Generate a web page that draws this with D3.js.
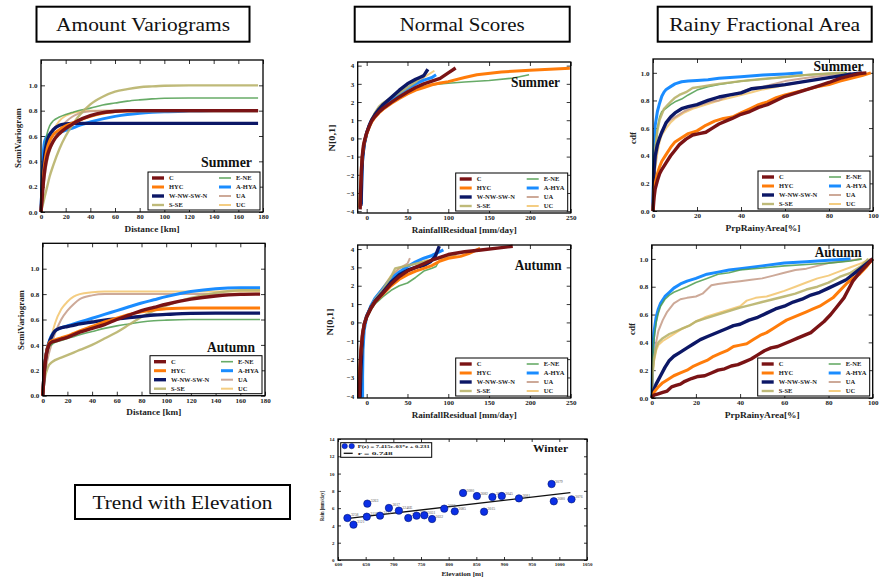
<!DOCTYPE html>
<html>
<head>
<meta charset="utf-8">
<script src="https://cdn.jsdelivr.net/npm/d3@7"></script>
<style>
  body { margin: 0; background: #fff; }
  text { font-family: "Liberation Serif", "DejaVu Serif", serif; }
</style>
</head>
<body>
<svg id="fig" width="880" height="578"></svg>
<script>
// ---- data ----
const seriesNames = ['C', 'HYC', 'W-NW-SW-N', 'S-SE', 'E-NE', 'A-HYA', 'UA', 'UC'];

// variograms: semivariance at each distance (km)
const distKm = [0, 1, 2, 3, 5, 7, 10, 15, 20, 25, 30, 40, 50, 60, 70, 80, 90, 100, 120, 140, 160, 176];
const varioSummer = [
  [0, .12, .24, .33, .44, .50, .56, .62, .66, .69, .72, .76, .785, .795, .80, .80, .80, .80, .80, .80, .80, .80],
  [0, .15, .28, .38, .50, .56, .61, .65, .68, .70, .72, .755, .78, .793, .798, .80, .80, .80, .80, .80, .80, .80],
  [0, .20, .35, .45, .56, .61, .65, .685, .695, .70, .70, .70, .70, .70, .70, .70, .70, .70, .70, .70, .70, .70],
  [0, .04, .08, .12, .20, .28, .37, .50, .60, .68, .75, .85, .91, .95, .97, .985, .992, .997, 1.0, 1.0, 1.0, 1.0],
  [0, .20, .38, .50, .62, .68, .72, .75, .77, .785, .80, .82, .845, .86, .875, .885, .893, .898, .90, .90, .90, .90],
  [0, .30, .48, .56, .60, .61, .62, .63, .645, .66, .68, .71, .735, .755, .77, .78, .787, .792, .797, .80, .80, .80],
  [0, .10, .20, .28, .40, .48, .56, .65, .71, .75, .775, .795, .80, .80, .80, .80, .80, .80, .80, .80, .80, .80],
  [0, .12, .24, .33, .46, .55, .64, .72, .76, .78, .79, .80, .80, .80, .80, .80, .80, .80, .80, .80, .80, .80]
];
const varioAutumn = [
  [0, .15, .26, .33, .40, .42, .43, .445, .46, .48, .50, .53, .56, .60, .635, .67, .695, .72, .76, .785, .798, .80],
  [0, .16, .27, .34, .41, .43, .44, .455, .47, .49, .51, .545, .58, .61, .64, .66, .675, .685, .69, .69, .69, .69],
  [0, .15, .26, .33, .41, .46, .51, .535, .545, .555, .565, .58, .595, .605, .615, .625, .635, .64, .648, .65, .65, .65],
  [0, .08, .15, .19, .24, .26, .28, .30, .32, .34, .36, .40, .45, .50, .56, .62, .67, .71, .77, .81, .83, .83],
  [0, .14, .25, .31, .38, .40, .42, .435, .45, .465, .48, .505, .53, .55, .565, .58, .59, .595, .60, .60, .60, .60],
  [0, .16, .27, .34, .42, .47, .51, .535, .55, .565, .58, .61, .64, .67, .70, .73, .755, .78, .82, .843, .85, .85],
  [0, .10, .18, .24, .33, .40, .49, .60, .67, .72, .76, .79, .80, .80, .80, .80, .80, .80, .80, .80, .80, .80],
  [0, .10, .18, .25, .36, .46, .57, .68, .74, .78, .80, .815, .82, .82, .82, .82, .82, .82, .82, .82, .82, .82]
];

// normal scores: [rainfall residual mm/day, N[0,1]]
const scoresSummer = [
  [[-8,-3.9],[-7.5,-3],[-6.5,-1.8],[-5.5,-1],[-4,-.4],[-2,0],[0,.3],[3,.65],[6,.95],[10,1.2],[15,1.45],[20,1.65],[30,1.98],[40,2.28],[50,2.55],[60,2.8],[70,3.0],[80,3.15],[90,3.3],[100,3.6],[109,3.87]],
  [[-8.5,-3.8],[-7.5,-2.6],[-6.5,-1.6],[-5,-.8],[-3,-.2],[0,.25],[3,.6],[6,.9],[10,1.15],[15,1.4],[20,1.6],[30,1.92],[40,2.2],[50,2.45],[60,2.65],[70,2.8],[80,2.95],[90,3.05],[100,3.12],[120,3.35],[135,3.5],[165,3.65],[200,3.75],[249,3.85]],
  [[-7,-3.7],[-6.5,-2.8],[-6,-1.8],[-5,-1],[-3,-.3],[0,.3],[3,.7],[6,1.0],[10,1.3],[15,1.6],[20,1.85],[30,2.25],[40,2.65],[50,3.0],[60,3.25],[65,3.35],[70,3.45],[75,3.8]],
  [[-7,-3.5],[-6,-2],[-5,-1],[-3,-.3],[0,.3],[3,.7],[6,1.05],[10,1.4],[15,1.75],[20,1.95],[30,2.25],[40,2.5],[50,2.8],[60,3.1],[65,3.3]],
  [[-7,-3.6],[-6,-2],[-5,-1],[-3,-.3],[0,.3],[3,.65],[6,.95],[10,1.2],[15,1.45],[20,1.65],[30,2.0],[40,2.3],[50,2.55],[60,2.72],[70,2.85],[80,2.95],[100,3.03],[120,3.1],[150,3.18],[180,3.32],[199,3.5]],
  [[-6.5,-3.6],[-6,-2.4],[-5,-1.2],[-3,-.3],[0,.3],[3,.7],[6,1.0],[10,1.3],[15,1.6],[20,1.82],[30,2.15],[40,2.45],[50,2.75],[60,3.0],[70,3.2],[80,3.35],[85,3.5]],
  [[-7,-3.3],[-6,-2],[-5,-1],[-3,-.3],[0,.3],[3,.68],[6,1.0],[10,1.3],[20,1.8],[30,2.15],[40,2.45],[50,2.7],[60,2.95],[70,3.3]],
  [[-7,-3.3],[-6,-2],[-5,-1],[-3,-.3],[0,.3],[3,.7],[6,1.0],[10,1.3],[20,1.8],[30,2.2],[40,2.5],[50,2.8],[60,3.1],[70,3.35],[83,3.72]]
];
const scoresAutumn = [
  [[-9,-4.1],[-8,-2.5],[-7,-1.5],[-5,-.6],[-3,-.1],[0,.3],[5,.75],[10,1.1],[20,1.6],[30,2.1],[40,2.5],[50,2.8],[60,3.0],[70,3.2],[80,3.4],[90,3.55],[100,3.7],[120,3.85],[140,3.95],[160,4.05],[179,4.15]],
  [[-10,-4.1],[-8.5,-2.5],[-7,-1.5],[-5,-.6],[-3,-.1],[0,.3],[5,.75],[10,1.1],[20,1.55],[30,2.0],[40,2.35],[50,2.6],[60,2.8],[70,2.95],[80,3.1],[90,3.35],[100,3.5],[115,3.6],[125,3.75],[139,4.04]],
  [[-8,-4.1],[-7,-2.6],[-6,-1.5],[-5,-.7],[-3,-.1],[0,.35],[5,.8],[10,1.15],[20,1.65],[30,2.2],[40,2.6],[50,2.85],[60,3.0],[70,3.1],[78,3.3],[84,3.6],[89,4.16]],
  [[-7,-3.3],[-6,-2],[-5,-.9],[-3,-.2],[0,.35],[5,.85],[10,1.25],[20,1.8],[30,2.5],[35,2.95],[40,3.0],[50,3.1],[60,3.2],[80,3.4],[100,3.6],[110,3.7]],
  [[-8,-3.5],[-7,-2],[-6,-1],[-4,-.3],[0,.2],[5,.65],[10,1.0],[20,1.4],[30,1.75],[40,2.0],[50,2.15],[55,2.3],[60,2.45],[70,2.8],[80,2.95],[85,3.05],[88,3.3]],
  [[-5,-4.1],[-5,-3],[-4.5,-1.5],[-3,-.4],[0,.3],[5,.9],[10,1.3],[20,1.85],[30,2.4],[40,2.75],[50,3.05],[60,3.3],[70,3.5],[80,3.65],[94,3.95]],
  [[-7,-3.3],[-6,-2],[-5,-.9],[-3,-.2],[0,.35],[5,.9],[10,1.3],[20,1.9],[30,2.5],[40,2.95],[50,3.2],[53,3.5]],
  [[-7,-3.3],[-6,-2],[-5,-.9],[-3,-.2],[0,.35],[5,.9],[10,1.3],[20,1.9],[30,2.55],[40,2.95],[50,3.1],[60,3.2],[75,3.4]]
];

// rainy fractional area: [PrpRainyArea %, cdf]
const areaSummer = [
  [[0,0],[.5,.1],[1,.16],[2,.22],[3,.27],[4,.3],[6,.35],[8,.4],[10,.44],[12,.48],[15,.52],[18,.55],[21,.56],[24,.57],[27,.6],[30,.63],[33,.65],[36,.67],[40,.7],[44,.72],[48,.75],[52,.77],[56,.8],[60,.83],[64,.85],[68,.87],[72,.89],[76,.91],[80,.93],[85,.96],[90,.98],[94,.995],[97,1]],
  [[0,0],[.5,.15],[1,.2],[2,.27],[3,.32],[4,.36],[6,.41],[8,.46],[10,.5],[13,.53],[16,.56],[20,.58],[24,.62],[28,.65],[32,.67],[36,.68],[40,.71],[44,.74],[48,.77],[52,.79],[56,.82],[60,.84],[65,.86],[70,.88],[75,.9],[80,.915],[85,.94],[90,.96],[95,.98],[99,1]],
  [[0,0],[.5,.3],[1,.4],[2,.48],[3,.53],[4,.57],[6,.64],[8,.68],[10,.71],[13,.74],[16,.755],[20,.77],[25,.8],[30,.825],[35,.84],[40,.855],[45,.885],[50,.895],[55,.905],[60,.915],[70,.94],[80,.965],[90,.99],[95,1]],
  [[0,0],[.5,.3],[1,.45],[2,.58],[3,.66],[5,.74],[8,.79],[10,.82],[12,.84],[15,.86],[18,.89],[22,.9],[26,.91],[30,.92],[40,.94],[50,.955],[60,.97],[70,.985],[80,.995],[87,1]],
  [[0,0],[.5,.32],[1,.45],[2,.6],[3,.68],[4,.72],[6,.745],[8,.77],[10,.79],[13,.81],[16,.84],[20,.875],[25,.9],[30,.915],[40,.94],[50,.955],[60,.97],[70,.985],[80,.995],[88,1]],
  [[0,0],[.3,.4],[.7,.55],[1,.62],[2,.72],[3,.78],[4,.83],[5,.86],[6,.88],[8,.9],[10,.92],[13,.935],[16,.94],[20,.945],[25,.95],[30,.96],[40,.972],[50,.985],[60,.992],[68,1]],
  [[0,0],[.5,.2],[1,.33],[2,.45],[3,.53],[4,.58],[6,.63],[8,.66],[10,.68],[14,.72],[18,.75],[22,.77],[26,.79],[30,.8],[35,.84],[40,.86],[45,.89],[50,.9],[55,.92],[60,.94],[70,.965],[80,.985],[90,1]],
  [[0,0],[.5,.2],[1,.3],[2,.42],[3,.5],[4,.55],[6,.6],[8,.64],[10,.67],[14,.71],[18,.74],[22,.76],[26,.78],[30,.8],[35,.82],[40,.84],[45,.86],[50,.88],[60,.91],[70,.94],[80,.965],[90,.985],[97,1]]
];
const areaAutumn = [
  [[0,0],[1,.02],[3,.03],[5,.04],[7,.05],[9,.08],[11,.09],[13,.1],[15,.12],[18,.14],[21,.155],[24,.16],[27,.18],[30,.2],[33,.21],[36,.23],[39,.24],[42,.26],[45,.28],[48,.31],[51,.34],[54,.36],[57,.37],[60,.39],[63,.41],[66,.43],[69,.45],[72,.47],[75,.51],[78,.55],[81,.6],[84,.66],[87,.72],[89,.78],[91,.84],[94,.9],[97,.95],[100,1]],
  [[0,0],[1,.04],[3,.08],[5,.11],[7,.13],[10,.16],[13,.18],[16,.2],[19,.23],[22,.25],[25,.27],[28,.3],[31,.32],[34,.34],[37,.37],[40,.38],[43,.39],[46,.42],[49,.45],[52,.47],[55,.5],[58,.53],[61,.56],[64,.58],[67,.6],[70,.62],[73,.64],[76,.66],[79,.69],[82,.72],[85,.77],[88,.82],[91,.86],[94,.89],[97,.94],[100,1]],
  [[0,0],[1,.06],[2,.1],[4,.16],[6,.22],[8,.27],[10,.3],[13,.33],[16,.36],[19,.39],[22,.42],[25,.44],[28,.46],[31,.48],[34,.5],[37,.52],[40,.53],[44,.56],[48,.58],[52,.61],[56,.64],[60,.66],[64,.69],[68,.71],[72,.74],[76,.76],[80,.79],[84,.82],[88,.85],[92,.9],[96,.95],[100,1]],
  [[0,0],[.5,.2],[1,.28],[2,.36],[3,.4],[5,.43],[8,.46],[11,.48],[14,.5],[17,.52],[20,.55],[24,.57],[28,.59],[32,.61],[36,.63],[40,.65],[45,.67],[50,.69],[55,.71],[60,.73],[65,.75],[70,.78],[75,.8],[80,.83],[85,.87],[90,.9],[95,.95],[98,1]],
  [[0,0],[.5,.3],[1,.42],[2,.54],[3,.61],[4,.66],[6,.71],[8,.74],[10,.76],[13,.78],[16,.8],[20,.83],[25,.86],[30,.89],[35,.9],[40,.92],[50,.935],[60,.95],[70,.96],[80,.97],[90,.985],[95,1]],
  [[0,0],[.5,.35],[1,.47],[2,.58],[3,.64],[4,.68],[6,.73],[8,.76],[10,.79],[13,.82],[16,.84],[20,.86],[25,.89],[30,.905],[35,.92],[40,.93],[50,.95],[60,.97],[70,.98],[80,.99],[90,1]],
  [[0,0],[.5,.2],[1,.3],[2,.4],[3,.48],[5,.56],[7,.62],[10,.68],[13,.71],[16,.72],[20,.73],[23,.75],[25,.78],[27,.81],[30,.82],[35,.83],[40,.84],[45,.85],[50,.86],[55,.88],[60,.9],[65,.92],[70,.93],[75,.95],[80,.97],[85,.98],[90,.99],[95,1]],
  [[0,0],[.5,.18],[1,.26],[2,.34],[3,.38],[5,.41],[8,.44],[11,.47],[14,.5],[17,.52],[20,.55],[24,.58],[28,.6],[32,.62],[36,.64],[40,.66],[43,.7],[47,.72],[52,.73],[56,.75],[60,.77],[65,.8],[70,.83],[75,.86],[80,.88],[85,.91],[90,.94],[95,.97],[99,1]]
];

// winter trend with elevation
const elevation = [617, 628, 652, 653, 676, 692, 710, 727, 742, 756, 770, 792, 811, 826, 851, 864, 879, 896, 927, 986, 990, 1022];
const winterRain = [4.86, 4.09, 5.01, 6.52, 5.13, 6.02, 5.71, 4.86, 5.13, 5.17, 4.74, 5.94, 5.63, 7.75, 7.40, 5.59, 7.29, 7.40, 7.13, 8.79, 6.79, 7.02];
const stationIds = ['3258', '3121', '3116', '3263', '3124', '3017', '3246E', '3028', '3030', '3031', '3032', '3033', '3085', '3080', '3082', '3015', '3120', '3045', '3081', '3079', '3080', '3076'];
const trendX = [615, 1020];
const trendY = [4.79, 7.79];

// ---- styles ----
const seriesColor = ['#7a1315', '#ff7c0a', '#0c1766', '#b8b36a', '#4c9c4c', '#1a8cff', '#c49a86', '#f2c46c'];
const seriesWidth = [3.4, 3, 3.4, 2.4, 1.6, 3, 2, 2];
const seriesAlpha = [1, 1, 1, 0.9, 0.85, 1, 0.85, 0.85];

const svg = d3.select('#fig');

function styleAxis(sel, size) {
  sel.select('.domain').remove();
  sel.selectAll('line').attr('stroke', '#000').attr('stroke-width', 0.8);
  sel.selectAll('text')
    .attr('font-family', '"Liberation Serif", serif')
    .attr('font-size', size)
    .attr('font-weight', 'bold')
    .attr('fill', '#222');
}

function drawPanel(p) {
  const g = svg.append('g');
  const x = d3.scaleLinear().domain(p.xDomain).range(p.xRange);
  const y = d3.scaleLinear().domain(p.yDomain).range(p.yRange);
  const [left, right] = p.xRange;
  const [bottom, top] = p.yRange;
  const ts = p.tick || 4;
  const fs = p.fontSize || 7;

  g.append('g').attr('transform', `translate(0,${bottom})`)
    .call(d3.axisBottom(x).tickValues(p.xTicks).tickSize(-ts).tickPadding(2.5).tickFormat(p.xFormat))
    .call(s => styleAxis(s, fs));
  g.append('g').attr('transform', `translate(0,${top})`)
    .call(d3.axisTop(x).tickValues(p.xTicks).tickSize(-ts).tickFormat(''))
    .call(s => styleAxis(s, fs));
  g.append('g').attr('transform', `translate(${left},0)`)
    .call(d3.axisLeft(y).tickValues(p.yTicks).tickSize(-ts).tickPadding(3.5).tickFormat(p.yFormat))
    .call(s => styleAxis(s, fs));
  g.append('g').attr('transform', `translate(${right},0)`)
    .call(d3.axisRight(y).tickValues(p.yTicks).tickSize(-ts).tickFormat(''))
    .call(s => styleAxis(s, fs));

  if (p.series) {
    const line = d3.line().x(d => x(d[0])).y(d => y(d[1])).curve(p.curve || d3.curveLinear);
    const order = d3.range(p.series.length).reverse();
    g.append('g').selectAll('path')
      .data(order)
      .join('path')
      .attr('d', i => line(p.series[i]))
      .attr('fill', 'none')
      .attr('stroke', i => seriesColor[i])
      .attr('stroke-width', i => seriesWidth[i])
      .attr('stroke-opacity', i => seriesAlpha[i])
      .attr('stroke-linejoin', 'round');
  }

  g.append('rect')
    .attr('x', left).attr('y', top)
    .attr('width', right - left).attr('height', bottom - top)
    .attr('fill', 'none').attr('stroke', '#000').attr('stroke-width', 1.3);

  // axis labels
  g.append('text')
    .attr('x', (left + right) / 2).attr('y', bottom + 19.5)
    .attr('text-anchor', 'middle')
    .attr('font-size', 8.5).attr('font-weight', 'bold').attr('fill', '#222')
    .attr('textLength', p.xLabelLen).attr('lengthAdjust', 'spacingAndGlyphs')
    .text(p.xLabel);
  g.append('text')
    .attr('transform', `translate(${p.yLabelX},${p.yLabelY}) rotate(-90)`)
    .attr('text-anchor', 'middle')
    .attr('font-size', 8.5).attr('font-weight', 'bold').attr('fill', '#222')
    .attr('textLength', p.yLabelLen).attr('lengthAdjust', 'spacingAndGlyphs')
    .text(p.yLabel);

  if (p.season) {
    g.append('text')
      .attr('x', right - p.season.inset).attr('y', p.season.y)
      .attr('text-anchor', 'end')
      .attr('font-size', 14).attr('font-weight', 'bold').attr('fill', '#111')
      .attr('textLength', p.season.len).attr('lengthAdjust', 'spacingAndGlyphs')
      .text(p.season.text);
  }

  if (p.series) {
    const lw = 112, lh = 38;
    const lx = right - 3 - lw, ly = bottom - 2 - lh;
    const lg = g.append('g').attr('transform', `translate(${lx},${ly})`);
    lg.append('rect').attr('width', lw).attr('height', lh)
      .attr('fill', '#fff').attr('stroke', '#000').attr('stroke-width', 1);
    const item = lg.selectAll('g.item')
      .data(seriesNames.map((n, i) => ({ n, i })))
      .join('g')
      .attr('transform', d => `translate(${d.i < 4 ? 4 : 71},${6 + (d.i % 4) * 9})`);
    item.append('line')
      .attr('x1', 0).attr('x2', 12).attr('y1', 0).attr('y2', 0)
      .attr('stroke', d => seriesColor[d.i])
      .attr('stroke-width', d => seriesWidth[d.i])
      .attr('stroke-opacity', d => seriesAlpha[d.i]);
    item.append('text')
      .attr('x', 17).attr('y', 2.3)
      .attr('font-size', 6.5).attr('font-weight', 'bold').attr('fill', '#222')
      .text(d => d.n);
  }
  return { x, y, g };
}

const varioTicksX = d3.range(0, 181, 20);
const unitTicks = [0, 0.2, 0.4, 0.6, 0.8, 1.0];
const fmt1 = d3.format('.1f');
const pairs = vals => vals.map(v => distKm.map((d, j) => [d, v[j]]));

drawPanel({
  xDomain: [0, 180], xRange: [41, 263], yDomain: [0, 1.2], yRange: [212, 60],
  xTicks: varioTicksX, yTicks: unitTicks, xFormat: d3.format('d'), yFormat: fmt1,
  series: pairs(varioSummer), curve: d3.curveMonotoneX,
  xLabel: 'Distance [km]', xLabelLen: 55, yLabel: 'SemiVariogram', yLabelLen: 60, yLabelX: 21, yLabelY: 138,
  season: { text: 'Summer', inset: 11, y: 167, len: 51 }
});
drawPanel({
  xDomain: [0, 180], xRange: [42.7, 265], yDomain: [0, 1.2], yRange: [395.7, 243.3],
  xTicks: varioTicksX, yTicks: unitTicks, xFormat: d3.format('d'), yFormat: fmt1,
  series: pairs(varioAutumn), curve: d3.curveMonotoneX,
  xLabel: 'Distance [km]', xLabelLen: 55, yLabel: 'SemiVariogram', yLabelLen: 60, yLabelX: 24, yLabelY: 320,
  season: { text: 'Autumn', inset: 10, y: 351.5, len: 48 }
});

const scoreTicksX = d3.range(0, 251, 50);
const scoreTicksY = d3.range(-4, 5, 1);
drawPanel({
  xDomain: [-11, 250], xRange: [357.7, 570.7], yDomain: [-4.1, 4.2], yRange: [213, 62],
  xTicks: scoreTicksX, yTicks: scoreTicksY, xFormat: d3.format('d'), yFormat: d3.format('d'),
  series: scoresSummer,
  xLabel: 'RainfallResidual [mm/day]', xLabelLen: 105, yLabel: 'N[0,1]', yLabelLen: 27, yLabelX: 334.5, yLabelY: 138,
  season: { text: 'Summer', inset: 10.7, y: 86.5, len: 49 }
});
drawPanel({
  xDomain: [-11, 250], xRange: [357.7, 570.7], yDomain: [-4.12, 4.22], yRange: [398, 245],
  xTicks: scoreTicksX, yTicks: scoreTicksY, xFormat: d3.format('d'), yFormat: d3.format('d'),
  series: scoresAutumn,
  xLabel: 'RainfallResidual [mm/day]', xLabelLen: 105, yLabel: 'N[0,1]', yLabelLen: 27, yLabelX: 333, yLabelY: 322,
  season: { text: 'Autumn', inset: 9, y: 270, len: 47 }
});

const areaTicksX = d3.range(0, 101, 20);
drawPanel({
  xDomain: [0, 100], xRange: [653, 873], yDomain: [0, 1.1], yRange: [211, 59],
  xTicks: areaTicksX, yTicks: unitTicks, xFormat: d3.format('d'), yFormat: fmt1,
  series: areaSummer,
  xLabel: 'PrpRainyArea[%]', xLabelLen: 75, yLabel: 'cdf', yLabelLen: 12, yLabelX: 636, yLabelY: 138,
  season: { text: 'Summer', inset: 9.5, y: 71, len: 50 }
});
drawPanel({
  xDomain: [0, 100], xRange: [651.7, 872.7], yDomain: [0, 1.1], yRange: [398, 245],
  xTicks: areaTicksX, yTicks: unitTicks, xFormat: d3.format('d'), yFormat: fmt1,
  series: areaAutumn,
  xLabel: 'PrpRainyArea[%]', xLabelLen: 75, yLabel: 'cdf', yLabelLen: 12, yLabelX: 634.5, yLabelY: 329,
  season: { text: 'Autumn', inset: 11, y: 257.3, len: 47 }
});

// ---- winter scatter ----
const sc = drawPanel({
  xDomain: [600, 1050], xRange: [338, 587], yDomain: [0, 14], yRange: [560, 439],
  xTicks: d3.range(600, 1051, 50), yTicks: d3.range(0, 15, 2),
  xFormat: d3.format('d'), yFormat: d3.format('d'), tick: 3, fontSize: 5,
  xLabel: 'Elevation [m]', xLabelLen: 42, yLabel: 'Rain [mm/day]', yLabelLen: 30, yLabelX: 324, yLabelY: 506
});
sc.g.selectAll('text').filter(function () { return this.textContent === 'Elevation [m]' || this.textContent === 'Rain [mm/day]'; })
  .attr('font-size', 5.5);
sc.g.selectAll('text').filter(function () { return this.textContent === 'Elevation [m]'; })
  .attr('y', 576);

sc.g.append('line')
  .attr('x1', sc.x(trendX[0])).attr('y1', sc.y(trendY[0]))
  .attr('x2', sc.x(trendX[1])).attr('y2', sc.y(trendY[1]))
  .attr('stroke', '#111').attr('stroke-width', 1.4);

const pts = sc.g.append('g').selectAll('g')
  .data(elevation.map((e, i) => ({ e, r: winterRain[i], id: stationIds[i] })))
  .join('g')
  .attr('transform', d => `translate(${sc.x(d.e)},${sc.y(d.r)})`);
pts.append('circle').attr('r', 3.7)
  .attr('fill', '#0b2fe6').attr('stroke', '#001470').attr('stroke-width', 0.6);
pts.append('text').attr('x', 3.5).attr('y', -1.5)
  .attr('font-size', 3.8).attr('fill', '#555').text(d => d.id);

const leg = sc.g.append('g').attr('transform', 'translate(340.7,442.7)');
leg.append('rect').attr('width', 91).attr('height', 14.6)
  .attr('fill', '#fff').attr('stroke', '#000').attr('stroke-width', 1);
leg.selectAll('circle').data([4, 11]).join('circle')
  .attr('cx', d => d).attr('cy', 3.4).attr('r', 2.7)
  .attr('fill', '#0b2fe6').attr('stroke', '#001470').attr('stroke-width', 0.5);
leg.append('line').attr('x1', 3).attr('x2', 12).attr('y1', 10.6).attr('y2', 10.6)
  .attr('stroke', '#111').attr('stroke-width', 1.3);
leg.append('text').attr('x', 17).attr('y', 5.3)
  .attr('font-size', 5).attr('font-weight', 'bold').attr('fill', '#222')
  .attr('textLength', 72).attr('lengthAdjust', 'spacingAndGlyphs')
  .text('P(z) = 7.415e-03*z +  0.231');
leg.append('text').attr('x', 17).attr('y', 12.6)
  .attr('font-size', 5).attr('font-weight', 'bold').attr('fill', '#222')
  .attr('textLength', 35).attr('lengthAdjust', 'spacingAndGlyphs')
  .text('r =  0.748');

sc.g.append('text').attr('x', 568).attr('y', 451.5).attr('text-anchor', 'end')
  .attr('font-size', 11).attr('font-weight', 'bold').attr('fill', '#111')
  .attr('textLength', 35).attr('lengthAdjust', 'spacingAndGlyphs')
  .text('Winter');

// ---- title boxes ----
const titleBoxes = [
  { text: 'Amount Variograms', x: 36.5, y: 6.7, w: 213, h: 35, len: 174, base: 30.5 },
  { text: 'Normal Scores', x: 354.7, y: 6.7, w: 215, h: 35, len: 125, base: 30.5 },
  { text: 'Rainy Fractional Area', x: 657.7, y: 6.7, w: 214, h: 35, len: 191, base: 30.5 },
  { text: 'Trend with Elevation', x: 75, y: 485, w: 215, h: 34, len: 180, base: 508.5 }
];
const tb = svg.append('g').selectAll('g').data(titleBoxes).join('g');
tb.append('rect')
  .attr('x', d => d.x).attr('y', d => d.y).attr('width', d => d.w).attr('height', d => d.h)
  .attr('fill', '#fff').attr('stroke', '#000').attr('stroke-width', 2);
tb.append('text')
  .attr('x', d => d.x + d.w / 2).attr('y', d => d.base)
  .attr('text-anchor', 'middle')
  .attr('font-size', 19).attr('fill', '#111')
  .attr('textLength', d => d.len).attr('lengthAdjust', 'spacingAndGlyphs')
  .text(d => d.text);
</script>
</body>
</html>
